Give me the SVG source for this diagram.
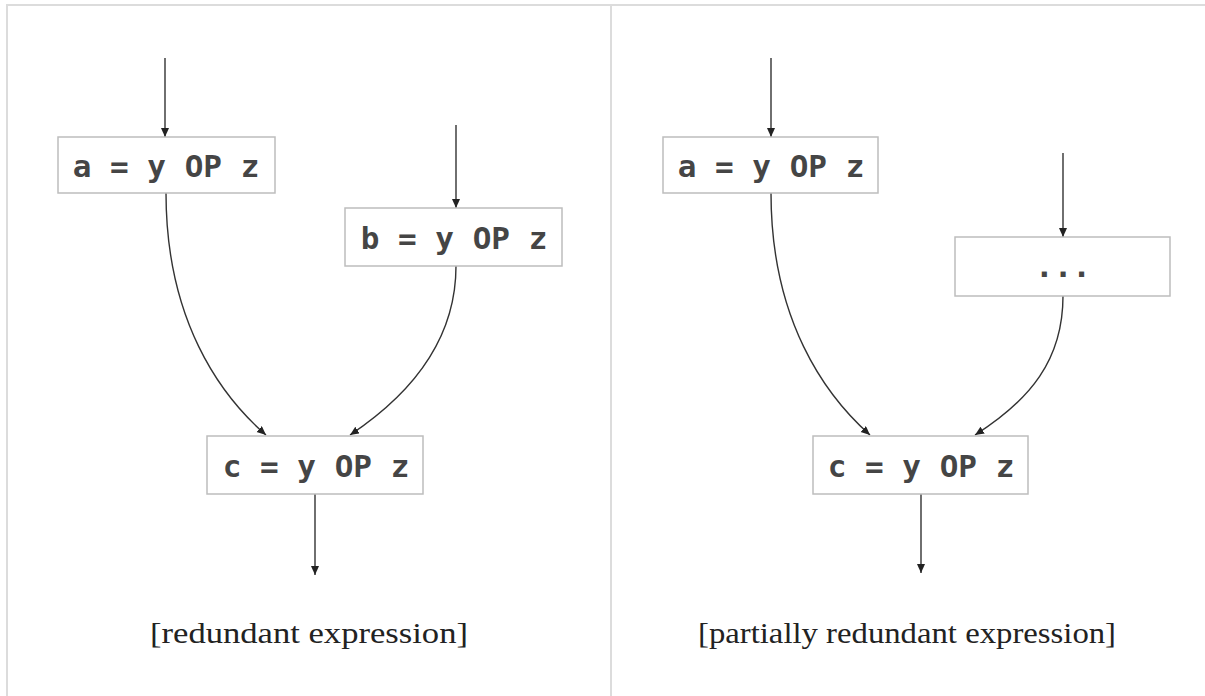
<svg xmlns="http://www.w3.org/2000/svg" width="1205" height="696" viewBox="0 0 1205 696">
<style>
.frame{fill:none;stroke:#dcdcdc;stroke-width:2}
.box{fill:#fff;stroke:#bdbdbd;stroke-width:1.5}
.code{font-family:"DejaVu Sans Mono","Liberation Mono",monospace;font-weight:bold;font-size:31px;fill:#454545;text-anchor:middle}
.cap{font-family:"Liberation Serif","DejaVu Serif",serif;font-size:30px;fill:#222;text-anchor:middle}
.edge{fill:none;stroke:#333;stroke-width:1.4;marker-end:url(#ah)}
</style>
<defs>
<marker id="ah" markerUnits="userSpaceOnUse" markerWidth="10" markerHeight="9" refX="9" refY="4" orient="auto">
<path d="M0,0 L9,4 L0,8 z" fill="#222"/>
</marker>
</defs>
<rect width="1205" height="696" fill="#fff"/>
<g id="frame">
<path class="frame" d="M7,696 L7,5 L1205,5 M611,5 L611,696"/>
</g>
<g id="connectors">
<path class="edge" d="M165,58 L165,137"/>
<path class="edge" d="M456,125 L456,208"/>
<path class="edge" d="M166,193 C166,320 220,395 266,435"/>
<path class="edge" d="M456,266 C456,340 410,395 350,435"/>
<path class="edge" d="M315,494 L315,575"/>
<path class="edge" d="M771,58 L771,137"/>
<path class="edge" d="M1063,153 L1063,237"/>
<path class="edge" d="M771,193 C771,320 825,395 870,435"/>
<path class="edge" d="M1063,296 C1063,360 1030,400 975,435"/>
<path class="edge" d="M921,494 L921,573"/>
</g>
<g id="node-a-left">
<rect class="box" x="58" y="137" width="217" height="56"/>
<text class="code" x="166" y="177">a = y OP z</text>
</g>
<g id="node-b-left">
<rect class="box" x="345" y="208" width="217" height="58"/>
<text class="code" x="454" y="249">b = y OP z</text>
</g>
<g id="node-c-left">
<rect class="box" x="207" y="436" width="216" height="58"/>
<text class="code" x="316" y="477">c = y OP z</text>
</g>
<g id="label-left">
<text class="cap" x="309" y="643" textLength="318" lengthAdjust="spacingAndGlyphs">[redundant expression]</text>
</g>
<g id="node-a-right">
<rect class="box" x="663" y="137" width="215" height="56"/>
<text class="code" x="771" y="177">a = y OP z</text>
</g>
<g id="node-dots-right">
<rect class="box" x="955" y="237" width="215" height="59"/>
<text class="code" x="1063" y="277">...</text>
</g>
<g id="node-c-right">
<rect class="box" x="813" y="436" width="215" height="58"/>
<text class="code" x="921" y="477">c = y OP z</text>
</g>
<g id="label-right">
<text class="cap" x="907" y="643" textLength="418" lengthAdjust="spacingAndGlyphs">[partially redundant expression]</text>
</g>
</svg>
